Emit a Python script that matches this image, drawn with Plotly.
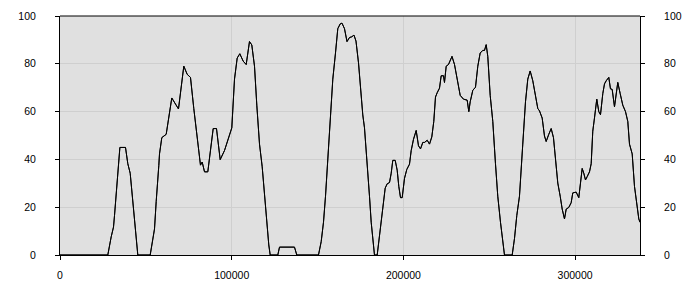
import plotly.graph_objects as go

x_vals = [0, 27840, 29820, 31160, 31740, 33660, 34880, 38150, 39490, 40880, 42050, 43390, 45310,
          52530, 53700, 55040, 56020, 56610, 57540, 57950, 59290, 61850, 63190, 65110, 69010,
          72100, 74080, 76000, 77920, 79320, 80660, 81820, 82820, 84160, 86080, 87650, 89220,
          91140, 93300, 95800, 97730, 100060, 101630, 103200, 104720, 106700, 108440, 110360,
          111700, 113280, 114620, 116190, 117760, 119100, 120440, 121600, 122420, 126850,
          127840, 136570, 137910, 150550, 152120, 153460, 154630, 155970, 157370, 158880,
          160450, 161790, 163190, 164240, 165690, 167150, 168610, 169940, 171220, 172390,
          173850, 175010, 176350, 177340, 178910, 180250, 181240, 182580, 183160, 184740,
          185670, 187070, 188410, 189400, 190560, 191900, 192890, 193820, 195220, 196380,
          197320, 198310, 199300, 200640, 201980, 203550, 204540, 205880, 207450, 208790,
          209960, 211300, 212290, 213860, 215200, 216540, 217700, 218690, 219680, 221020,
          222010, 223350, 223930, 224920, 226260, 228300, 229760, 231680, 233080, 235000,
          237150, 238090, 238900, 240420, 241990, 243330, 244720, 246240, 247230, 248220,
          249150, 250550, 252060, 253630, 254970, 256550, 257880, 258870, 263360, 264700,
          266040, 267610, 269530, 271110, 272450, 273840, 275360, 276930, 278270, 279260,
          280830, 282170, 283160, 284680, 286070, 287410, 288580, 289920, 291320, 292480,
          293820, 294810, 296320, 297720, 298650, 300630, 302150, 302960, 304130, 305060,
          306050, 307040, 308380, 309370, 310300, 311290, 312630, 313800, 314790, 316130,
          317120, 318110, 319620, 320610, 321600, 322940, 323930, 324860, 326260, 327770,
          329350, 330690, 331680, 333250, 334590, 335930, 337100, 337800]

y_vals = [0, 0, 7.6, 11.7, 16.5, 35.5, 45, 45, 38.2, 34.2, 24.6, 15.1, 0,
          0, 6.1, 10.9, 22.4, 27.3, 37.4, 42.3, 49.1, 50.5, 57.3, 65.7, 61.1,
          79, 75.6, 74.3, 61.3, 53.2, 45, 37.6, 38.9, 34.8, 34.8, 45, 52.9,
          52.9, 39.9, 43.7, 47.8, 53.2, 73.6, 82.4, 84.2, 81.1, 79.7, 89.3,
          87.9, 79, 62.7, 46.4, 36.9, 24.6, 12.4, 4.2, 0, 0,
          3.3, 3.3, 0, 0, 5.6, 13.7, 24.6, 39.6, 55.9, 73.6,
          84.5, 94.7, 96.7, 97, 94.7, 89.3, 91, 91.3, 92, 89.5,
          80.4, 69.5, 58.6, 53.2, 39.6, 24.6, 13.7, 5.6, 0, 0,
          5.6, 13.7, 23.3, 28, 29.8, 30.3, 34.2, 39.6, 39.6, 35.5,
          28.7, 24, 24, 32.1, 35.8, 38, 43.7, 48.4, 52.1, 45.7,
          44.4, 47.1, 47.1, 48, 46.4, 49.4, 55.9, 66.1, 67.9, 69.8,
          75, 75, 72.2, 79, 79.7, 83.1, 79.7, 72.2, 66.8, 65.2,
          64.8, 60, 64.1, 68.9, 70.2, 79, 84.5, 85.6, 85.6, 88,
          83.1, 66.8, 55.9, 38.2, 24.6, 13.7, 4.2, 0, 0, 6.9,
          16.5, 24.6, 46.4, 64.1, 73.6, 77, 72.9, 66.8, 61.3, 60.3,
          57.3, 49.8, 47.5, 50.5, 52.9, 49.1, 40.9, 30.1, 24.6, 19.2,
          15.1, 19.2, 19.9, 21.9, 26, 26.3, 24, 30.1, 36.2, 34.2,
          31.4, 32.8, 34.8, 38.2, 51.8, 57.3, 65.2, 60, 58.7, 67.5,
          71.6, 72.9, 74.3, 69.5, 69.3, 62, 68.2, 72.2, 67.5, 62.7,
          60, 55.9, 46.4, 42.3, 28.7, 20.5, 15.1, 13.7]

x_range = [0, 337800]
y_range = [0, 100]
x_ticks = [0, 100000, 200000, 300000]
y_ticks = [0, 20, 40, 60, 80, 100]

font = dict(family="Liberation Sans, Arial, sans-serif", size=10.5, color="#000000")

fig = go.Figure()
fig.add_trace(go.Scatter(x=x_vals, y=y_vals, mode="lines",
                         line=dict(color="#000000", width=1), hoverinfo="skip",
                         showlegend=False))
fig.add_trace(go.Scatter(x=x_vals, y=y_vals, mode="lines", yaxis="y2",
                         line=dict(color="#000000", width=1), hoverinfo="skip",
                         showlegend=False))

axis_common = dict(showline=True, linecolor="#000000", linewidth=1,
                   ticks="outside", ticklen=4, tickcolor="#000000",
                   gridcolor="#cfcfcf", gridwidth=1, zeroline=False,
                   tickfont=font)

fig.update_layout(
    width=700, height=300,
    margin=dict(l=60, r=60, t=10, b=45),
    paper_bgcolor="#ffffff",
    plot_bgcolor="#e0e0e0",
    xaxis=dict(range=x_range, tickvals=x_ticks, tickformat="d",
               ticklabelstandoff=6, mirror=False, **axis_common),
    yaxis=dict(range=y_range, tickvals=y_ticks, ticklabelstandoff=17,
               mirror=False, **axis_common),
    yaxis2=dict(range=y_range, tickvals=y_ticks, overlaying="y", side="right",
                showgrid=False, ticklabelstandoff=17,
                **{k: v for k, v in axis_common.items() if k not in ("gridcolor", "gridwidth")}),
    shapes=[dict(type="line", xref="paper", yref="paper", x0=0, x1=1, y0=1, y1=1,
                 line=dict(color="#000000", width=1))],
)

fig.write_html("out.html")
